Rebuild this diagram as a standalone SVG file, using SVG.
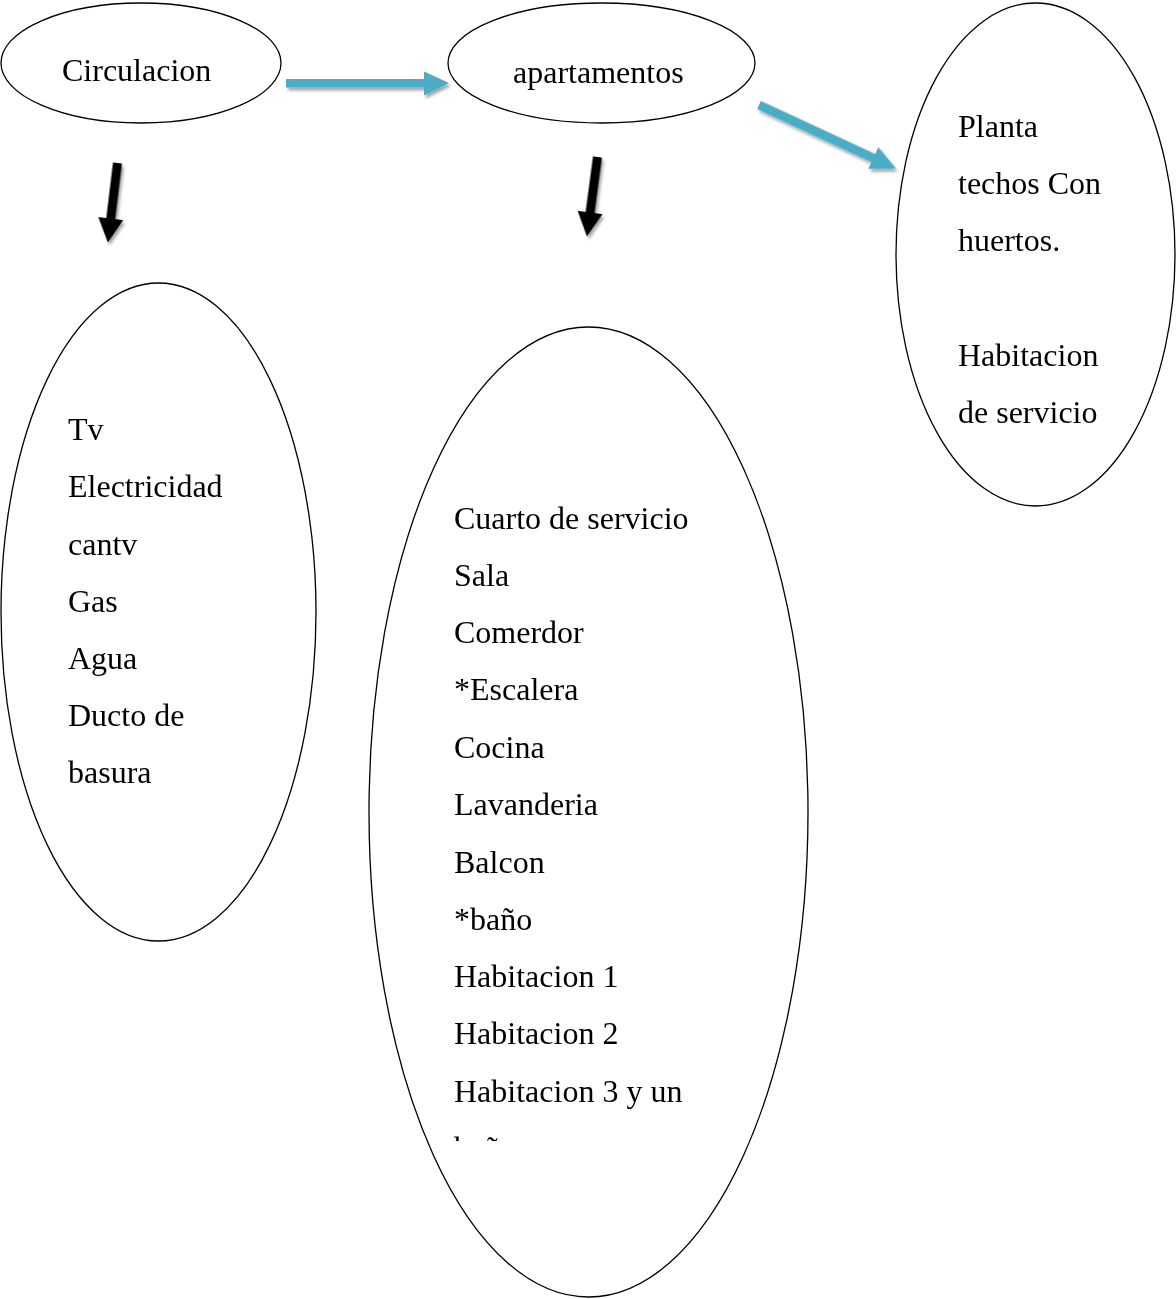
<svg xmlns="http://www.w3.org/2000/svg" width="1176" height="1299" viewBox="0 0 1176 1299">
<style>
.node ellipse{fill:#fff;stroke:#000;stroke-width:1.3}
.t{font-family:"Liberation Serif","Times New Roman",serif;font-size:32px;fill:#000}
.blue{fill:#4BACC6}
.black{fill:#000}
</style>
<defs>
<filter id="sh" x="-20%" y="-50%" width="140%" height="200%">
<feGaussianBlur in="SourceAlpha" stdDeviation="1.5"/>
<feOffset dx="1.5" dy="2.5" result="b"/>
<feComponentTransfer><feFuncA type="linear" slope="0.35"/></feComponentTransfer>
<feMerge><feMergeNode/><feMergeNode in="SourceGraphic"/></feMerge>
</filter>
<clipPath id="clipMid"><rect x="370" y="327" width="440" height="814"/></clipPath>
<clipPath id="clipRight"><rect x="896" y="3" width="280" height="422"/></clipPath>
</defs>
<rect width="1176" height="1299" fill="#fff"/>
<g id="connectors" filter="url(#sh)">
<polygon class="blue" points="286,79 424,79 424,71.5 449,83 424,95.5 424,87.5 286,87.5"/>
<polygon class="blue" transform="translate(759,105) rotate(24.9)" points="0,-4.5 126,-4.5 126,-12 151,0 126,12 126,4.5 0,4.5"/>
<polygon class="black" transform="translate(117.5,163) rotate(96.9)" points="0,-4.5 56,-4.5 56,-12.5 80,0 56,12.5 56,4.5 0,4.5"/>
<polygon class="black" transform="translate(597.5,157) rotate(97.6)" points="0,-4.5 56,-4.5 56,-12.5 80,0 56,12.5 56,4.5 0,4.5"/>
</g>
<g id="circulacion" class="node">
<ellipse cx="141" cy="63" rx="140" ry="60"/>
<text class="t" x="62" y="81">Circulacion</text>
</g>
<g id="apartamentos" class="node">
<ellipse cx="601.5" cy="63" rx="153.5" ry="60"/>
<text class="t" x="513" y="83">apartamentos</text>
</g>
<g id="planta" class="node">
<ellipse cx="1035.5" cy="254.5" rx="139.5" ry="251.5"/>
<g clip-path="url(#clipRight)">
<text class="t" x="958" y="137">Planta</text>
<text class="t" x="958" y="194">techos Con</text>
<text class="t" x="958" y="251">huertos.</text>
<text class="t" x="958" y="366">Habitacion</text>
<text class="t" x="958" y="423">de servicio</text>
</g>
</g>
<g id="servicios" class="node">
<ellipse cx="158.5" cy="612" rx="157.5" ry="329"/>
<text class="t" x="68" y="440">Tv</text>
<text class="t" x="68" y="497">Electricidad</text>
<text class="t" x="68" y="555">cantv</text>
<text class="t" x="68" y="612">Gas</text>
<text class="t" x="68" y="669">Agua</text>
<text class="t" x="68" y="726">Ducto de</text>
<text class="t" x="68" y="783">basura</text>
</g>
<g id="espacios" class="node">
<ellipse cx="588.5" cy="812" rx="219.5" ry="485"/>
<g clip-path="url(#clipMid)">
<text class="t" x="454" y="529">Cuarto de servicio</text>
<text class="t" x="454" y="586">Sala</text>
<text class="t" x="454" y="643">Comerdor</text>
<text class="t" x="454" y="700">*Escalera</text>
<text class="t" x="454" y="758">Cocina</text>
<text class="t" x="454" y="815">Lavanderia</text>
<text class="t" x="454" y="873">Balcon</text>
<text class="t" x="454" y="930">*baño</text>
<text class="t" x="454" y="987">Habitacion 1</text>
<text class="t" x="454" y="1044">Habitacion 2</text>
<text class="t" x="454" y="1102">Habitacion 3 y un</text>
<text class="t" x="454" y="1159">baño</text>
</g>
</g>
</svg>
